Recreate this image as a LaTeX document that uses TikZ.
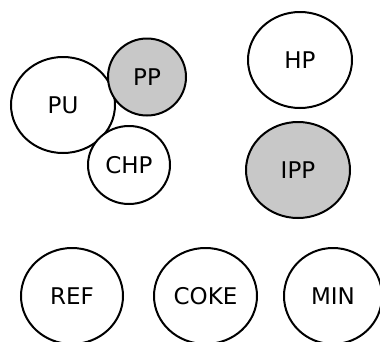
\documentclass[tikz,border=0pt]{standalone}
\usepackage{fontspec}
\setmainfont{DejaVu Sans}
\usetikzlibrary{shapes.geometric}
\definecolor{shade}{HTML}{C8C8C8}
\tikzset{
  blob/.style={draw=black, line width=2pt, ellipse, inner sep=0pt, fill=white,
    minimum width=104pt, minimum height=96pt, font=\fontsize{23}{27}\selectfont},
  grayblob/.style={blob, fill=shade}
}
\begin{document}
\begin{tikzpicture}[x=1pt,y=-1pt]
\useasboundingbox (0,0) rectangle (380,341);
\clip (0,0) rectangle (380,341);
\node[blob] (PU) at (63,105) {PU};
\node[grayblob, minimum width=78pt, minimum height=77pt] (PP) at (147,77) {PP};
\node[blob, minimum width=82pt, minimum height=78pt] (CHP) at (129,165) {CHP};
\node[blob] (HP) at (300,60) {HP};
\node[grayblob] (IPP) at (298,170) {IPP};
\node[blob, minimum width=102pt] (REF) at (72,296) {REF};
\node[blob, minimum width=103pt] (COKE) at (205.5,296) {COKE};
\node[blob, minimum width=98pt] (MIN) at (333,296) {MIN};
\end{tikzpicture}
\end{document}
